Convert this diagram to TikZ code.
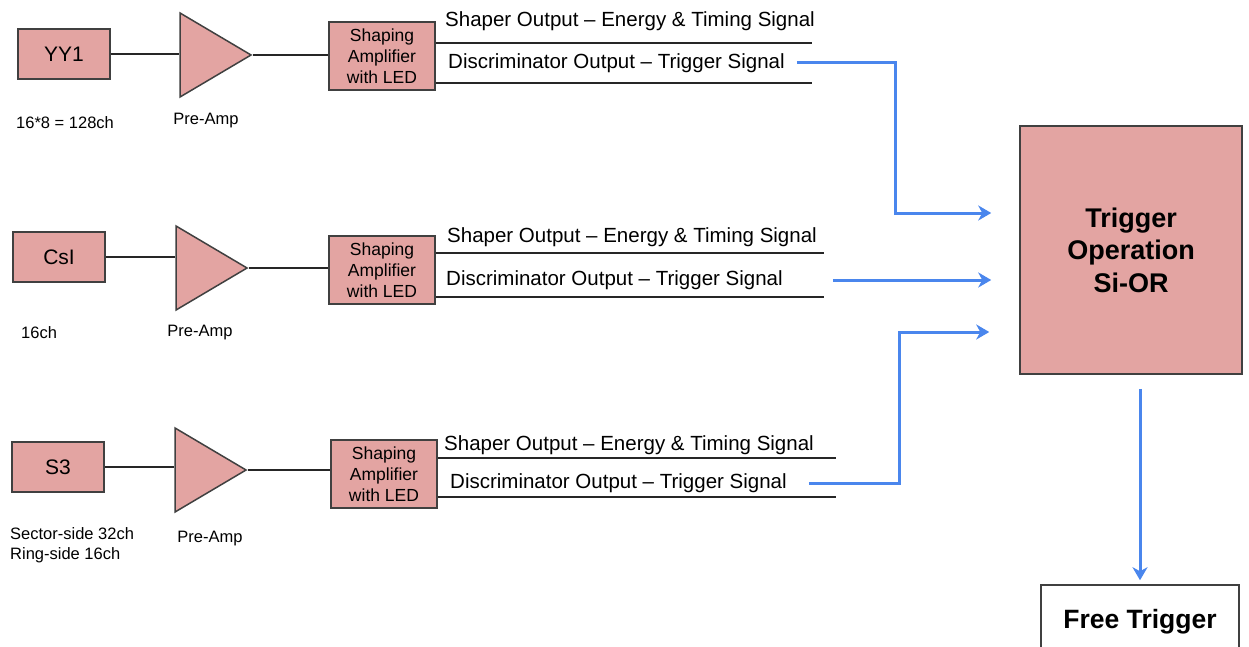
\documentclass[tikz,border=0pt]{standalone}
\usepackage{fontspec}
\setmainfont{Liberation Sans}
\usepackage{xcolor}
\usepackage{tikz}
\usetikzlibrary{arrows.meta, positioning, calc, shapes.geometric}
\definecolor{trpink}{RGB}{227,164,162}
\definecolor{trborder}{RGB}{64,64,64}
\definecolor{trblue}{RGB}{74,134,237}

\begin{document}
\begin{tikzpicture}[x=1pt, y=-1pt,
    det/.style={rectangle, draw=trborder, fill=trpink, line width=1.5pt,
        minimum width=92pt, minimum height=50pt, font=\fontsize{21}{25}\selectfont},
    amp/.style={isosceles triangle, isosceles triangle stretches, draw=trborder,
        fill=trpink, line width=1.5pt, minimum width=84pt, minimum height=71pt,
        inner sep=0pt, anchor=apex},
    shaper/.style={rectangle, draw=trborder, fill=trpink, line width=1.5pt,
        minimum width=106pt, minimum height=68pt, inner sep=0pt, align=center,
        font=\fontsize{17.5}{21}\selectfont},
    trig/.style={rectangle, draw=trborder, fill=trpink, line width=1.5pt,
        minimum width=222pt, minimum height=248pt, align=center,
        font=\bfseries\fontsize{27}{32.5}\selectfont},
    freebox/.style={rectangle, draw=trborder, fill=white, line width=1.5pt,
        minimum width=198pt, minimum height=74pt,
        font=\bfseries\fontsize{26.5}{30}\selectfont},
    note/.style={font=\fontsize{16.5}{20}\selectfont, anchor=west, inner sep=0pt},
    outlbl/.style={font=\fontsize{20.5}{24}\selectfont, anchor=west, inner sep=0pt},
    wire/.style={line width=2.8pt, color=black!85},
    sig/.style={-{Stealth[length=13pt,width=15pt,inset=4pt]}, line width=3pt, color=trblue}
]
\useasboundingbox (0,0) rectangle (1249,647);

% detectors
\node[det] (yy1) at (64,54)  {YY1};
\node[det] (csi) at (59,257) {CsI};
\node[det] (s3)  at (58,467) {S3};
\node[note] (yy1ch) at (16,123) {16*8 = 128ch};
\node[note] (csich) at (21,333) {16ch};
\node[note, align=left] (s3ch) at (10,545) {Sector-side 32ch\\Ring-side 16ch};

% pre-amps
\node[amp] (amp1) at (253,55)  {};
\node[amp] (amp2) at (249,268) {};
\node[amp] (amp3) at (248,470) {};
\node[note, anchor=center] (pa1) at (206,121) {Pre-Amp};
\node[note, anchor=center] (pa2) at (200,333) {Pre-Amp};
\node[note, anchor=center] (pa3) at (210,539) {Pre-Amp};

% shaping amplifiers
\node[shaper] (shp1) at (382,56)  {Shaping\\Amplifier\\with LED};
\node[shaper] (shp2) at (382,270) {Shaping\\Amplifier\\with LED};
\node[shaper] (shp3) at (384,474) {Shaping\\Amplifier\\with LED};

\draw[wire] (yy1.east) -- (yy1.east -| amp1.west);
\draw[wire] (csi.east) -- (csi.east -| amp2.west);
\draw[wire] (s3.east)  -- (s3.east -| amp3.west);
\draw[wire] (amp1.apex) -- (amp1.apex -| shp1.west);
\draw[wire] (amp2.apex) -- (amp2.apex -| shp2.west);
\draw[wire] (amp3.apex) -- (amp3.apex -| shp3.west);

% outputs
\coordinate (o1a) at (812,43);  \coordinate (o1b) at (812,83);
\coordinate (o2a) at (824,253); \coordinate (o2b) at (824,297);
\coordinate (o3a) at (836,458); \coordinate (o3b) at (836,497);
\draw[wire] (shp1.east |- o1a) -- (o1a);
\draw[wire] (shp1.east |- o1b) -- (o1b);
\draw[wire] (shp2.east |- o2a) -- (o2a);
\draw[wire] (shp2.east |- o2b) -- (o2b);
\draw[wire] (shp3.east |- o3a) -- (o3a);
\draw[wire] (shp3.east |- o3b) -- (o3b);

\node[outlbl] (shout1)  at (445,21)  {Shaper Output – Energy \& Timing Signal};
\node[outlbl] (disc1)   at (448,63)  {Discriminator Output – Trigger Signal};
\node[outlbl] (shout2)  at (447,237) {Shaper Output – Energy \& Timing Signal};
\node[outlbl] (disc2)   at (446,280) {Discriminator Output – Trigger Signal};
\node[outlbl] (shout3)  at (444,445) {Shaper Output – Energy \& Timing Signal};
\node[outlbl] (disc3)   at (450,483) {Discriminator Output – Trigger Signal};

% trigger logic
\node[trig] (trig) at (1131,250) {Trigger\\Operation\\Si-OR};
\node[freebox] (free) at (1140,622) {Free Trigger};

\draw[sig] ([xshift=12pt]disc1.east) -| ([xshift=-124pt, yshift=37pt]trig.west)
           -- ([xshift=-28pt, yshift=37pt]trig.west);
\draw[sig] ([xshift=50pt]disc2.east) -- ([xshift=-28pt, yshift=-30pt]trig.west);
\draw[sig] ([xshift=22pt]disc3.east) -| ([xshift=-120pt, yshift=-82pt]trig.west)
           -- ([xshift=-30pt, yshift=-82pt]trig.west);
\draw[sig, shorten <=14pt, shorten >=4pt] (free.north |- trig.south) -- (free.north);
\end{tikzpicture}
\end{document}
